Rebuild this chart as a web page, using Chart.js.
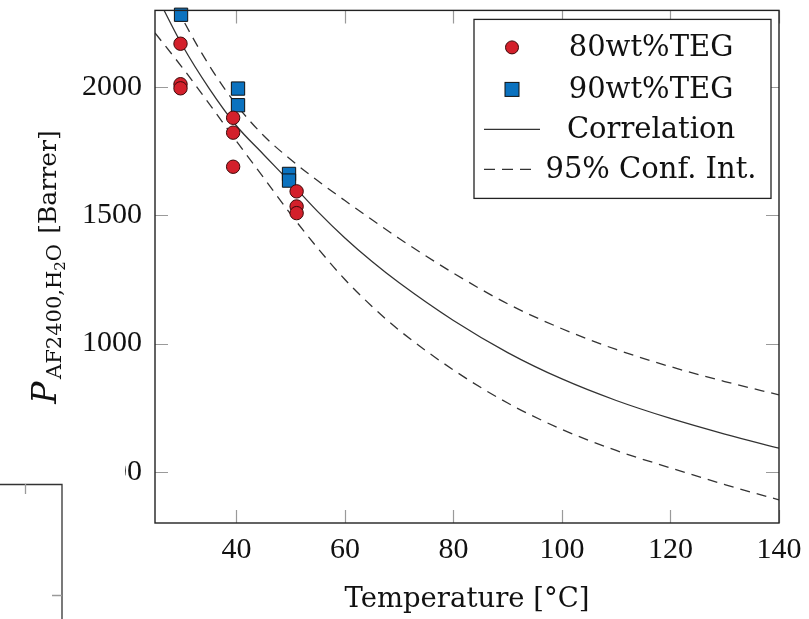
<!DOCTYPE html>
<html>
<head>
<meta charset="utf-8">
<script src="https://cdn.jsdelivr.net/npm/chart.js@4.4.1/dist/chart.umd.min.js"></script>
<style>
html,body{margin:0;padding:0;background:#fff;}
#wrap{width:809px;height:619px;position:relative;}
</style>
</head>
<body>
<div id="wrap"><canvas id="permchart" width="809" height="619"></canvas></div>
<script>
// measured points, 80 wt% TEG
const teg80Temp=[29.7,29.7,29.7,39.4,39.4,39.4,51.1,51.1,51.1];
const teg80Perm=[2170,2012,1996,1881,1823,1690,1594,1535,1509];
// measured points, 90 wt% TEG
const teg90Temp=[29.8,40.3,40.3,49.7,49.7];
const teg90Perm=[2283,1995,1930,1662,1636];
// correlation + confidence band
const curveTemp=[25,30,35,40,45,50,55,60,65,70,80,90,100,110,120,130,140];
const corrPerm=[2370,2165,1995,1850,1738,1628,1515,1412,1320,1237,1090,965,862,778,708,647,592];
const upperPerm=[2490,2270,2085,1932,1812,1718,1635,1558,1483,1410,1275,1155,1058,977,910,852,800];
const lowerPerm=[2212,2078,1935,1790,1648,1505,1372,1250,1145,1052,897,768,665,583,515,450,390];
const xTicks=[40,60,80,100,120,140];
const yTicks=[500,1000,1500,2000];
const seriesNames=['80wt%TEG','90wt%TEG','Correlation','95% Conf. Int.'];

function pts(xs,ys){
    return xs.map((x,i)=>({x:x,y:ys[i]}));
}

const red='#d3202b';
const blue='#0b72bf';
const lineCol='#333333';

// frame + inward ticks on all four sides, pgfplots style
const framePlugin={
    id:'frame',
    afterDatasetsDraw(chart){
        const ctx=chart.ctx;
        const a=chart.chartArea;
        const xs=chart.scales.x, ys=chart.scales.y;
        ctx.save();
        ctx.strokeStyle='#9a9a9a';
        ctx.lineWidth=1.2;
        const tl=13;
        ctx.beginPath();
        xTicks.forEach(v=>{
            const p=Math.round(xs.getPixelForValue(v))+0.5;
            ctx.moveTo(p,a.bottom);ctx.lineTo(p,a.bottom-tl);
            ctx.moveTo(p,a.top);ctx.lineTo(p,a.top+tl);
        });
        yTicks.forEach(v=>{
            const p=Math.round(ys.getPixelForValue(v))+0.5;
            ctx.moveTo(a.left,p);ctx.lineTo(a.left+tl,p);
            ctx.moveTo(a.right,p);ctx.lineTo(a.right-tl,p);
        });
        ctx.stroke();
        ctx.strokeStyle='#222';
        ctx.lineWidth=1.4;
        ctx.strokeRect(a.left,a.top,a.right-a.left,a.bottom-a.top);
        ctx.restore();
    }
};

// legend box in the upper right corner of the plot
const legendPlugin={
    id:'boxLegend',
    afterDraw(chart){
        const ctx=chart.ctx;
        const a=chart.chartArea;
        const bx=a.right-305, by=a.top+9, bw=297, bh=179;
        ctx.save();
        ctx.fillStyle='#fff';
        ctx.fillRect(bx,by,bw,bh);
        ctx.strokeStyle='#222';
        ctx.lineWidth=1.3;
        ctx.strokeRect(bx,by,bw,bh);
        const rowY=[by+28,by+70,by+110,by+150];
        const mx=bx+38, tx=bx+177;
        // circle
        ctx.beginPath();
        ctx.arc(mx,rowY[0],6.5,0,Math.PI*2);
        ctx.fillStyle=red;ctx.fill();
        ctx.lineWidth=1;ctx.strokeStyle='#3a0808';ctx.stroke();
        // square
        ctx.fillStyle=blue;
        ctx.fillRect(mx-7,rowY[1]-7,14,14);
        ctx.strokeStyle='#111';ctx.strokeRect(mx-7,rowY[1]-7,14,14);
        // lines
        ctx.strokeStyle=lineCol;ctx.lineWidth=1.3;
        ctx.beginPath();ctx.moveTo(bx+10,rowY[2]);ctx.lineTo(bx+66,rowY[2]);ctx.stroke();
        ctx.setLineDash([11,7]);
        ctx.beginPath();ctx.moveTo(bx+10,rowY[3]);ctx.lineTo(bx+60,rowY[3]);ctx.stroke();
        ctx.setLineDash([]);
        ctx.fillStyle='#111';
        ctx.font='29px "DejaVu Serif"';
        ctx.textAlign='center';
        ctx.textBaseline='middle';
        seriesNames.forEach((n,i)=>ctx.fillText(n,tx,rowY[i]+1));
        ctx.restore();
    }
};

// y axis title with subscripts
const yTitlePlugin={
    id:'yTitle',
    afterDraw(chart){
        const ctx=chart.ctx;
        const parts=[
            {t:'P',f:'italic 33px "DejaVu Serif"',dy:0},
            {t:' ',f:'8px "DejaVu Serif"',dy:0},
            {t:'AF2400,H',f:'21px "DejaVu Serif"',dy:5},
            {t:'2',f:'15px "DejaVu Serif"',dy:9},
            {t:'O',f:'21px "DejaVu Serif"',dy:5},
            {t:'  ',f:'16px "DejaVu Serif"',dy:0},
            {t:'[Barrer]',f:'25px "DejaVu Serif"',dy:0}
        ];
        ctx.save();
        let total=0;
        parts.forEach(p=>{ctx.font=p.f;p.w=ctx.measureText(p.t).width;total+=p.w;});
        ctx.translate(56,267);
        ctx.rotate(-Math.PI/2);
        ctx.fillStyle='#111';
        ctx.textBaseline='alphabetic';
        let x=-total/2;
        parts.forEach(p=>{ctx.font=p.f;ctx.fillText(p.t,x,p.dy);x+=p.w;});
        ctx.restore();

        // piece of a neighbouring figure overlapping the lower left corner
        ctx.save();
        ctx.fillStyle='#fff';
        ctx.fillRect(63,455,62,36);
        ctx.strokeStyle='#333';
        ctx.lineWidth=1.3;
        ctx.beginPath();
        ctx.moveTo(0,484.5);ctx.lineTo(62,484.5);ctx.lineTo(62,619);
        ctx.stroke();
        ctx.strokeStyle='#9a9a9a';
        ctx.beginPath();
        ctx.moveTo(25.5,484);ctx.lineTo(25.5,494);
        ctx.moveTo(62,595.5);ctx.lineTo(52,595.5);
        ctx.stroke();
        ctx.restore();
    }
};

const ctx=document.getElementById('permchart').getContext('2d');
new Chart(ctx,{
    type:'scatter',
    data:{
        datasets:[
            {label:seriesNames[0],data:pts(teg80Temp,teg80Perm),pointStyle:'circle',pointRadius:6.7,
             backgroundColor:red,borderColor:'#3a0808',borderWidth:1,clip:false},
            {label:seriesNames[1],data:pts(teg90Temp,teg90Perm),pointStyle:'rect',pointRadius:9.4,
             backgroundColor:blue,borderColor:'#111',borderWidth:1,clip:false},
            {label:seriesNames[2],data:pts(curveTemp,corrPerm),showLine:true,pointRadius:0,
             borderColor:lineCol,borderWidth:1.3,cubicInterpolationMode:'monotone'},
            {label:seriesNames[3],data:pts(curveTemp,upperPerm),showLine:true,pointRadius:0,
             borderColor:lineCol,borderWidth:1.3,borderDash:[10,7],cubicInterpolationMode:'monotone'},
            {label:'lower',data:pts(curveTemp,lowerPerm),showLine:true,pointRadius:0,
             borderColor:lineCol,borderWidth:1.3,borderDash:[10,7],cubicInterpolationMode:'monotone'}
        ]
    },
    options:{
        responsive:false,
        animation:false,
        layout:{padding:{left:0,right:30,top:8,bottom:0}},
        plugins:{legend:{display:false},tooltip:{enabled:false}},
        scales:{
            x:{
                type:'linear',min:25,max:140,
                afterFit(s){s.height=96;s.paddingLeft=0;s.paddingRight=0;},
                afterBuildTicks(s){s.ticks=xTicks.map(v=>({value:v}));},
                grid:{display:false,drawTicks:false},
                border:{display:false},
                ticks:{color:'#111',padding:9,maxRotation:0,callback:v=>String(v),
                       font:{family:'"Liberation Serif"',size:30}},
                title:{display:true,text:'Temperature [°C]',color:'#111',padding:{top:0,bottom:3},
                       font:{family:'"DejaVu Serif"',size:27.5}}
            },
            y:{
                type:'linear',min:300,max:2300,
                afterFit(s){s.width=155;s.paddingTop=0;s.paddingBottom=0;},
                afterBuildTicks(s){s.ticks=yTicks.map(v=>({value:v}));},
                grid:{display:false,drawTicks:false},
                border:{display:false},
                ticks:{color:'#111',padding:13,callback:v=>String(v),
                       font:{family:'"Liberation Serif"',size:30}}
            }
        }
    },
    plugins:[framePlugin,legendPlugin,yTitlePlugin]
});
</script>
</body>
</html>
